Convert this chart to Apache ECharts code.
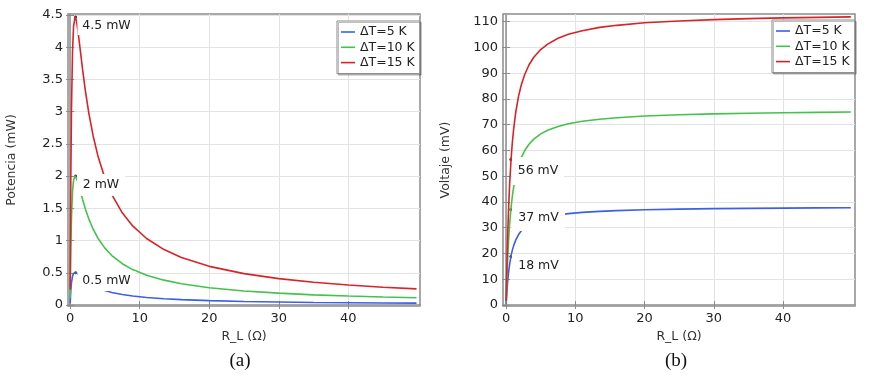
<!DOCTYPE html>
<html>
<head>
<meta charset="utf-8">
<script src="https://cdn.jsdelivr.net/npm/echarts@6/dist/echarts.min.js"></script>
<style>
  html, body { margin: 0; padding: 0; background: #fff; }
  #chart { width: 872px; height: 377px; }
</style>
</head>
<body>
<div id="chart"></div>
<script>
// load resistance R_L (ohm), shared by both panels
const rL = [0.01, 0.1, 0.2, 0.35, 0.5, 0.72, 0.9, 1.1, 1.4, 1.8, 2.2, 2.7, 3.3, 4, 5, 6, 7.5, 9, 11, 13.5, 16, 20, 25, 30, 35, 40, 45, 49.8];

// (a) power in mW
const potencia5 = [0.028, 0.218, 0.347, 0.448, 0.493, 0.509, 0.503, 0.487, 0.457, 0.416, 0.378, 0.339, 0.300, 0.263, 0.224, 0.195, 0.163, 0.140, 0.118, 0.098, 0.084, 0.068, 0.055, 0.047, 0.040, 0.035, 0.032, 0.029];
const potencia10 = [0.108, 0.859, 1.365, 1.766, 1.940, 2.006, 1.981, 1.918, 1.799, 1.637, 1.490, 1.333, 1.180, 1.037, 0.883, 0.768, 0.641, 0.550, 0.463, 0.386, 0.330, 0.269, 0.218, 0.184, 0.158, 0.139, 0.124, 0.113];
const potencia15 = [0.242, 1.916, 3.044, 3.938, 4.328, 4.473, 4.418, 4.278, 4.013, 3.651, 3.324, 2.974, 2.631, 2.313, 1.969, 1.712, 1.430, 1.227, 1.032, 0.860, 0.737, 0.600, 0.487, 0.410, 0.353, 0.311, 0.277, 0.251];

// (b) voltage in mV
const voltaje5 = [0.52, 4.67, 8.33, 12.52, 15.69, 19.15, 21.29, 23.15, 25.29, 27.36, 28.85, 30.24, 31.44, 32.46, 33.47, 34.20, 34.94, 35.46, 35.95, 36.36, 36.65, 36.97, 37.22, 37.40, 37.53, 37.62, 37.70, 37.75];
const voltaje10 = [1.04, 9.27, 16.52, 24.86, 31.15, 38.0, 42.22, 45.93, 50.19, 54.29, 57.26, 60.0, 62.39, 64.41, 66.43, 67.86, 69.34, 70.37, 71.33, 72.15, 72.73, 73.36, 73.87, 74.22, 74.47, 74.66, 74.80, 74.92];
const voltaje15 = [1.55, 13.8, 24.7, 37.1, 46.5, 56.8, 63.1, 68.6, 75.0, 81.1, 85.5, 89.6, 93.2, 96.2, 99.2, 101.3, 103.6, 105.1, 106.5, 107.8, 108.6, 109.6, 110.3, 110.8, 111.2, 111.5, 111.7, 111.9];

// marked maximum-power points
const peakPotR = [0.8, 0.8, 0.8];
const peakPot = [0.5, 2.0, 4.47];
const peakVolR = [0.68, 0.68, 0.68];
const peakVol = [18.8, 37.1, 56.5];

const seriesNames = ['ΔT=5 K', 'ΔT=10 K', 'ΔT=15 K'];
const potLabels = ['0.5 mW', '2 mW', '4.5 mW'];
const volLabels = ['18 mV', '37 mV', '56 mV'];

const xTicks = [0, 10, 20, 30, 40];
const potTicks = [0, 0.5, 1, 1.5, 2, 2.5, 3, 3.5, 4, 4.5];
const volTicks = [0, 10, 20, 30, 40, 50, 60, 70, 80, 90, 100, 110];

const colors = ['#3d5fe6', '#44c24c', '#d92328'];
const font = 'DejaVu Sans';
const frameColor = '#8c8c8c';

function zip (xs, ys) {
    return xs.map(function (x, i) { return [x, ys[i]]; });
}

function mainAxis (gridIndex, min, max, ticks, name, nameGap, isY) {
    return {
        type: 'value',
        gridIndex: gridIndex,
        min: min,
        max: max,
        position: isY ? 'left' : 'bottom',
        name: name,
        nameLocation: 'middle',
        nameGap: nameGap,
        nameTextStyle: { fontFamily: font, fontSize: 12.5, color: '#333' },
        axisLine: { show: true, lineStyle: { color: frameColor, width: 1.5 } },
        axisTick: { show: true, inside: true, length: 4, customValues: ticks, lineStyle: { color: frameColor } },
        axisLabel: { customValues: ticks, fontFamily: font, fontSize: 13, color: '#222', margin: isY ? 5 : 6 },
        splitLine: { show: true, lineStyle: { color: '#e3e3e3', width: 1 } }
    };
}

function mirrorAxis (gridIndex, min, max, ticks, isY) {
    return {
        type: 'value',
        gridIndex: gridIndex,
        min: min,
        max: max,
        position: isY ? 'right' : 'top',
        axisLine: { show: false },
        axisTick: { show: true, inside: true, length: 4, customValues: ticks, lineStyle: { color: frameColor } },
        axisLabel: { show: false },
        splitLine: { show: false }
    };
}

function lineSeries (name, xIdx, yIdx, ys, color) {
    return {
        name: name,
        type: 'line',
        xAxisIndex: xIdx,
        yAxisIndex: yIdx,
        data: zip(rL, ys),
        symbol: 'none',
        lineStyle: { color: color, width: 1.6 },
        itemStyle: { color: color }
    };
}

const boxLabel = {
    show: true,
    position: 'inside',
    formatter: '{b}',
    fontFamily: font,
    fontSize: 12.5,
    color: '#222'
};

function legendAt (left, top) {
    return {
        data: seriesNames,
        orient: 'vertical',
        left: left,
        top: top,
        icon: 'rect',
        itemWidth: 14,
        itemHeight: 1.6,
        itemGap: 1.3,
        padding: [4, 5, 4, 4],
        backgroundColor: '#fff',
        borderColor: '#8a8a8a',
        borderWidth: 1,
        shadowColor: 'rgba(0,0,0,0.25)',
        shadowOffsetX: 1.5,
        shadowOffsetY: 1.5,
        shadowBlur: 0,
        selectedMode: false,
        textStyle: { fontFamily: font, fontSize: 12.5, lineHeight: 14, color: '#222' }
    };
}

const chart = echarts.init(document.getElementById('chart'), null, { renderer: 'canvas' });

const options = {
    animation: false,
    backgroundColor: '#fff',
    grid: [
        { left: 68, top: 14, width: 352, height: 292, show: true, borderColor: frameColor, borderWidth: 1.5 },
        { left: 503, top: 14, width: 352, height: 292, show: true, borderColor: frameColor, borderWidth: 1.5 }
    ],
    legend: [legendAt(337, 21), legendAt(772, 20)],
    xAxis: [
        mainAxis(0, -0.3, 50.3, xTicks, 'R_L (Ω)', 19, false),
        mainAxis(1, -0.45, 50.4, xTicks, 'R_L (Ω)', 19, false),
        mirrorAxis(0, -0.3, 50.3, xTicks, false),
        mirrorAxis(1, -0.45, 50.4, xTicks, false)
    ],
    yAxis: [
        mainAxis(0, -0.015, 4.515, potTicks, 'Potencia (mW)', 50, true),
        mainAxis(1, -0.4, 113, volTicks, 'Voltaje (mV)', 51, true),
        mirrorAxis(0, -0.015, 4.515, potTicks, true),
        mirrorAxis(1, -0.4, 113, volTicks, true)
    ],
    series: [
        lineSeries(seriesNames[0], 0, 0, potencia5, colors[0]),
        lineSeries(seriesNames[1], 0, 0, potencia10, colors[1]),
        lineSeries(seriesNames[2], 0, 0, potencia15, colors[2]),
        lineSeries(seriesNames[0], 1, 1, voltaje5, colors[0]),
        lineSeries(seriesNames[1], 1, 1, voltaje10, colors[1]),
        lineSeries(seriesNames[2], 1, 1, voltaje15, colors[2]),
        {
            type: 'scatter',
            xAxisIndex: 0,
            yAxisIndex: 0,
            data: zip(peakPotR, peakPot),
            symbolSize: 3,
            itemStyle: { color: '#000' },
            silent: true,
            markPoint: {
                symbol: 'rect',
                silent: true,
                itemStyle: { color: '#fff' },
                label: boxLabel,
                data: [
                    { name: potLabels[0], coord: [5.23, 0.372], symbolSize: [58, 20] },
                    { name: potLabels[1], coord: [4.44, 1.862], symbolSize: [48, 22] },
                    { name: potLabels[2], coord: [5.23, 4.336], symbolSize: [58, 19] }
                ]
            }
        },
        {
            type: 'scatter',
            xAxisIndex: 1,
            yAxisIndex: 1,
            data: zip(peakVolR, peakVol),
            symbolSize: 3,
            itemStyle: { color: '#000' },
            silent: true,
            markPoint: {
                symbol: 'rect',
                silent: true,
                itemStyle: { color: '#fff' },
                label: boxLabel,
                data: [
                    { name: volLabels[0], coord: [4.68, 15.1], symbolSize: [53, 24] },
                    { name: volLabels[1], coord: [4.68, 33.8], symbolSize: [53, 26] },
                    { name: volLabels[2], coord: [4.61, 52.0], symbolSize: [52, 28] }
                ]
            }
        }
    ],
    graphic: [
        { type: 'text', x: 240, y: 361, style: { text: '(a)', font: '19px "Liberation Serif"', fill: '#111', textAlign: 'center', textVerticalAlign: 'middle' } },
        { type: 'text', x: 676, y: 361, style: { text: '(b)', font: '19px "Liberation Serif"', fill: '#111', textAlign: 'center', textVerticalAlign: 'middle' } }
    ]
};

chart.setOption(options);
</script>
</body>
</html>
